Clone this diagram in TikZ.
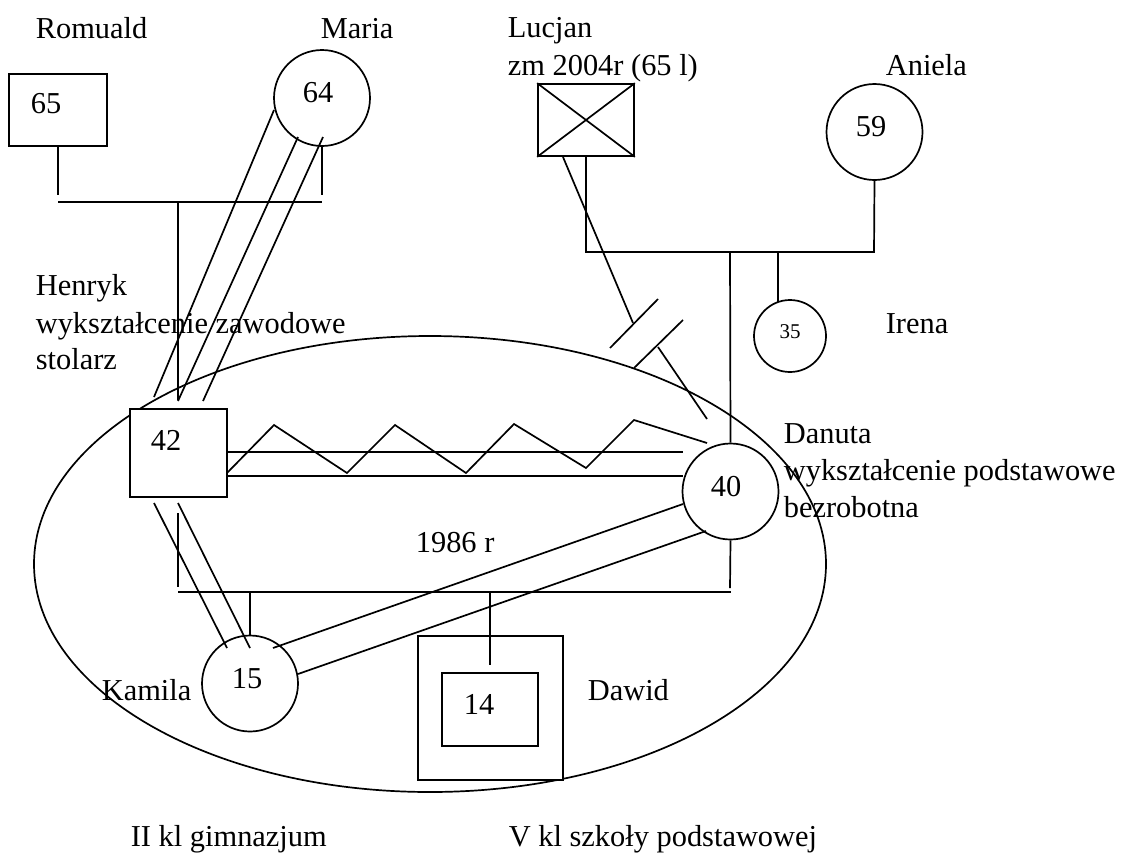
\documentclass[tikz,border=0pt]{standalone}
\usepackage{fontspec}
\setmainfont{Liberation Serif}
\newcommand\gtxt{\fontsize{30.4}{36}\selectfont}
\newcommand\gsmall{\fontsize{21}{25}\selectfont}
\begin{document}
\begin{tikzpicture}[x=1pt,y=-1pt,line width=1.7pt,
  lbl/.style={anchor=base west,inner sep=0pt,font=\gtxt},
  num/.style={anchor=base,inner sep=0pt,font=\gtxt},
  person/.style={draw,fill=white,inner sep=0pt},
  male/.style={person,rectangle},
  female/.style={person,circle}]
\useasboundingbox (0,0) rectangle (1142,852);

% household boundary
\draw (430,564) ellipse [x radius=396pt, y radius=228pt];

% people
\node[male,minimum width=98pt,minimum height=72pt] (rom) at (58,110) {};
\node[female,minimum size=96pt] (mar) at (322,98) {};
\node[male,minimum width=96pt,minimum height=72pt] (luc) at (586,120) {};
\node[female,minimum size=96pt] (ani) at (874.5,132) {};
\node[female,minimum size=72pt] (ire) at (790,336) {};
\node[male,minimum width=97pt,minimum height=88pt] (hen) at (178.5,453) {};
\node[female,minimum size=96pt] (dan) at (730.5,491.5) {};
\node[female,minimum size=96pt] (kam) at (250,683.5) {};
\node[male,minimum width=145pt,minimum height=144pt] (dawout) at (490.5,708) {};
\node[male,minimum width=96pt,minimum height=73pt] (dawin) at (490,709.5) {};

% deceased mark
\draw (luc.north west) -- (luc.south east) (luc.north east) -- (luc.south west);

% ages
\node[num] at (46,113) {65};
\node[num] at (318,102) {64};
\node[num] at (871,136) {59};
\node[num,font=\gsmall] at (790,338) {35};
\node[num] at (166,450) {42};
\node[num] at (726,496) {40};
\node[num] at (247,688) {15};
\node[num] at (479,714) {14};

% names and notes
\node[lbl] at (35,38) {Romuald};
\node[lbl] at (320,38) {Maria};
\node[lbl] at (507,37) {Lucjan};
\node[lbl] at (507,75) {zm 2004r (65 l)};
\node[lbl] at (885,75) {Aniela};
\node[lbl] at (885,333) {Irena};
\node[lbl] at (35,295) {Henryk};
\node[lbl] at (35,333) {wykształcenie zawodowe};
\node[lbl] at (35,369) {stolarz};
\node[lbl] at (783,443) {Danuta};
\node[lbl] at (783,480) {wykształcenie podstawowe};
\node[lbl] at (783,517) {bezrobotna};
\node[lbl] at (415,552) {1986 r};
\node[lbl] at (101,700) {Kamila};
\node[lbl] at (587,700) {Dawid};
\node[lbl] at (130,846) {II kl gimnazjum};
\node[lbl] at (508,846) {V kl szkoły podstawowej};

% Romuald + Maria
\draw (rom.south) -- (58,195);
\draw (mar.south) -- (322,195);
\draw (58,202) -- (322,202);
\draw (178,202) -- (178,400);

% close bond Maria - Henryk
\draw (274,110) -- (154,397);
\draw (298,137) -- (178,401);
\draw (323,137) -- (203,401);

% Lucjan + Aniela
\draw (586,156) -- (586,252) -- (874,252) -- (ani.south);
\draw (730,252) -- (dan.north);
\coordinate (iretop) at (778,302);
\draw (778,252) -- (iretop);

% cut-off relation Lucjan - Danuta
\draw (563,157) -- (633,323);
\draw (610,348) -- (658,299);
\draw (634,368) -- (683,320);
\draw (658,347) -- (707,419);

% conflicted bond Henryk - Danuta
\draw (227,452) -- (683,452);
\draw (227,476) -- (683,476);
\draw (227,473) -- (274,425) -- (347,473) -- (395,425) -- (466,473)
      -- (514,424) -- (586,468) -- (634,420) -- (707,443);

% Henryk + Danuta and children
\draw (178,513) -- (178,587);
\draw (dan.south) -- (730,588);
\draw (178,592) -- (731,592);
\draw (250,592) -- (kam.north);
\draw (490,592) -- (490,665);

% close bonds with Kamila
\draw (154,503) -- (227,648);
\draw (178,503) -- (250,648);
\draw (273,648) -- (683,504);
\draw (298,674) -- (706,531);
\end{tikzpicture}
\end{document}
